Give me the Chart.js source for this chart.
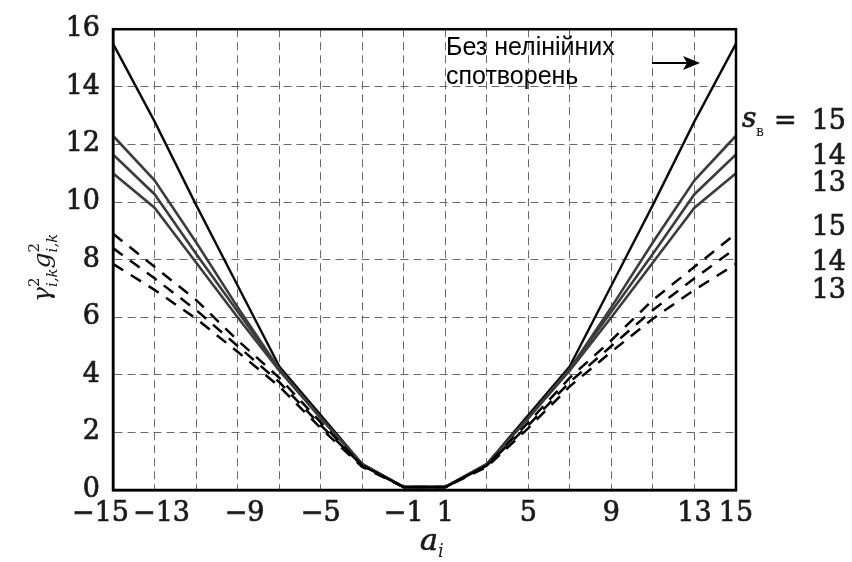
<!DOCTYPE html>
<html>
<head>
<meta charset="utf-8">
<script src="https://cdn.jsdelivr.net/npm/chart.js@4.4.1/dist/chart.umd.min.js"></script>
<style>
  html, body { margin: 0; padding: 0; background: #fff; }
  #wrap { width: 852px; height: 562px; position: relative; }
</style>
</head>
<body>
<div id="wrap"><canvas id="lossChart"></canvas></div>
<script>
// amplitude levels a_i
var aValues = [-15, -13, -11, -9, -7, -5, -3, -1, 1, 3, 5, 7, 9, 11, 13, 15];
var xTickLabels = [-15, -13, -9, -5, -1, 1, 5, 9, 13, 15];

// no nonlinear distortion
var idealLine = [15.5, 12.8, 9.9, 7.1, 4.3, 2.6, 0.9, 0.1, 0.1, 0.9, 2.6, 4.3, 7.1, 9.9, 12.8, 15.5];

// solid grey curves, s_B = 15, 14, 13
var solid15 = [12.3, 10.75, 8.6, 6.35, 4.2, 2.5, 0.9, 0.1, 0.1, 0.9, 2.5, 4.2, 6.35, 8.6, 10.75, 12.3];
var solid14 = [11.65, 10.27, 8.2, 6.2, 4.2, 2.5, 0.9, 0.1, 0.1, 0.9, 2.5, 4.2, 6.2, 8.2, 10.27, 11.65];
var solid13 = [11.0, 9.8, 7.9, 6.0, 4.15, 2.5, 0.9, 0.1, 0.1, 0.9, 2.5, 4.15, 6.0, 7.9, 9.8, 11.0];

// dashed curves, s_B = 15, 14, 13
var dashed15 = [8.9, 7.75, 6.6, 5.2, 3.9, 2.35, 0.85, 0.1, 0.1, 0.85, 2.35, 3.9, 5.2, 6.6, 7.75, 8.9];
var dashed14 = [8.4, 7.35, 6.25, 5.0, 3.75, 2.25, 0.85, 0.1, 0.1, 0.85, 2.25, 3.75, 5.0, 6.25, 7.35, 8.4];
var dashed13 = [7.85, 6.95, 5.95, 4.8, 3.6, 2.15, 0.8, 0.1, 0.1, 0.8, 2.15, 3.6, 4.8, 5.95, 6.95, 7.85];

var rightLabels = ['15', '14', '13', '15', '14', '13'];

function pts(arr) {
    return arr.map(function(v, i) { return {x: aValues[i], y: v}; });
}

var serif = '"DejaVu Serif", "Liberation Serif", serif';

function line(data, color, width, dash) {
    return {
        data: pts(data),
        borderColor: color,
        borderWidth: width,
        borderDash: dash || [],
        pointRadius: 0,
        tension: 0,
        fill: false
    };
}

function heavyText(ctx, t, x, y) {
    ctx.fillText(t, x, y);
    ctx.strokeText(t, x, y);
}

var decorPlugin = {
    id: 'decor',
    afterDraw: function(chart) {
        var ctx = chart.ctx;
        var ca = chart.chartArea;
        var xs = chart.scales.x;
        ctx.save();

        // frame
        ctx.strokeStyle = '#000';
        ctx.lineWidth = 2.5;
        ctx.strokeRect(ca.left, ca.top, ca.right - ca.left, ca.bottom - ca.top);

        ctx.fillStyle = '#1a1a1a';
        ctx.strokeStyle = '#1a1a1a';
        ctx.lineWidth = 0.7;

        // x tick labels
        ctx.font = '27px ' + serif;
        ctx.textBaseline = 'top';
        xTickLabels.forEach(function(v) {
            var px = xs.getPixelForValue(v);
            var txt = (v < 0 ? '\u2212' : '') + Math.abs(v);
            if (v === -15) { ctx.textAlign = 'right'; px += 16; }
            else { ctx.textAlign = 'center'; }
            if (v === -13) px += 7;
            if (v === -9) px += 7;
            heavyText(ctx, txt, px, ca.bottom + 10);
        });

        // x title a_i
        ctx.textBaseline = 'alphabetic';
        ctx.textAlign = 'left';
        ctx.font = 'italic 30px ' + serif;
        heavyText(ctx, 'a', 420, 550);
        ctx.font = 'italic 18px ' + serif;
        ctx.fillText('i', 438, 557);

        // y title
        ctx.save();
        ctx.translate(50, 302);
        ctx.rotate(-Math.PI / 2);
        var x = 0;
        function part(t, size, dy, italic) {
            ctx.font = (italic ? 'italic ' : '') + size + 'px ' + serif;
            ctx.fillText(t, x, dy);
            x += ctx.measureText(t).width;
        }
        part('\u03b3', 25, 0, true);
        var sx = x;
        part('2', 15, -11, false);
        x = sx;
        part('i,k', 15, 7, true);
        part('g', 25, 0, true);
        sx = x;
        part('2', 15, -11, false);
        x = sx;
        part('i,k', 15, 7, true);
        ctx.restore();

        // right-hand labels
        ctx.textAlign = 'right';
        ctx.textBaseline = 'middle';
        ctx.font = '27px ' + serif;
        var ys = [122, 157, 184, 228, 263, 291];
        rightLabels.forEach(function(t, i) { heavyText(ctx, t, 846, ys[i]); });
        ctx.textAlign = 'left';
        ctx.font = '27px ' + serif;
        heavyText(ctx, '=', 774, 122);
        ctx.font = 'italic 28px ' + serif;
        heavyText(ctx, 's', 742, 120);
        ctx.font = '14px ' + serif;
        ctx.fillText('\u0432', 756, 132);

        // annotation
        ctx.fillStyle = '#000';
        ctx.font = '25px "Liberation Sans", Arial, sans-serif';
        ctx.textBaseline = 'middle';
        ctx.fillText('Без нелінійних', 446, 48);
        ctx.fillText('спотворень', 446, 77);
        ctx.strokeStyle = '#000';
        ctx.lineWidth = 2.2;
        ctx.beginPath();
        ctx.moveTo(652, 63);
        ctx.lineTo(688, 63);
        ctx.stroke();
        ctx.beginPath();
        ctx.moveTo(700, 63);
        ctx.lineTo(683, 56);
        ctx.lineTo(687, 63);
        ctx.lineTo(683, 70);
        ctx.closePath();
        ctx.fill();

        ctx.restore();
    }
};

new Chart(document.getElementById('lossChart').getContext('2d'), {
    type: 'line',
    data: {
        datasets: [
            line(dashed15, '#000', 2.5, [12, 9]),
            line(dashed14, '#000', 2.5, [12, 9]),
            line(dashed13, '#000', 2.5, [12, 9]),
            line(solid13, '#3c3c3c', 2.6),
            line(solid14, '#3c3c3c', 2.6),
            line(solid15, '#3c3c3c', 2.6),
            line(idealLine, '#0a0a0a', 2.4)
        ]
    },
    options: {
        responsive: true,
        maintainAspectRatio: false,
        animation: false,
        layout: { padding: { top: 19, right: 116, left: 0, bottom: 0 } },
        plugins: { legend: { display: false }, tooltip: { enabled: false } },
        scales: {
            x: {
                type: 'linear',
                min: -15,
                max: 15,
                afterBuildTicks: function(scale) {
                    scale.ticks = aValues.map(function(v) { return {value: v}; });
                },
                afterFit: function(scale) { scale.height = 72; },
                ticks: { display: false },
                grid: { color: '#6a6a6a', lineWidth: 1, drawTicks: false },
                border: { display: true, color: '#000', width: 2.5, dash: [8, 5] }
            },
            y: {
                min: 0,
                max: 16,
                afterFit: function(scale) { scale.width = 113; },
                ticks: {
                    stepSize: 1,
                    padding: 13,
                    color: '#1a1a1a',
                    textStrokeColor: '#1a1a1a',
                    textStrokeWidth: 0.7,
                    font: { family: serif, size: 27 },
                    callback: function(v) { return v % 2 === 0 ? v : ''; }
                },
                grid: { color: '#6a6a6a', lineWidth: 1, drawTicks: false },
                border: { display: true, color: '#000', width: 2.5, dash: [8, 5] }
            }
        }
    },
    plugins: [decorPlugin]
});
</script>
</body>
</html>
